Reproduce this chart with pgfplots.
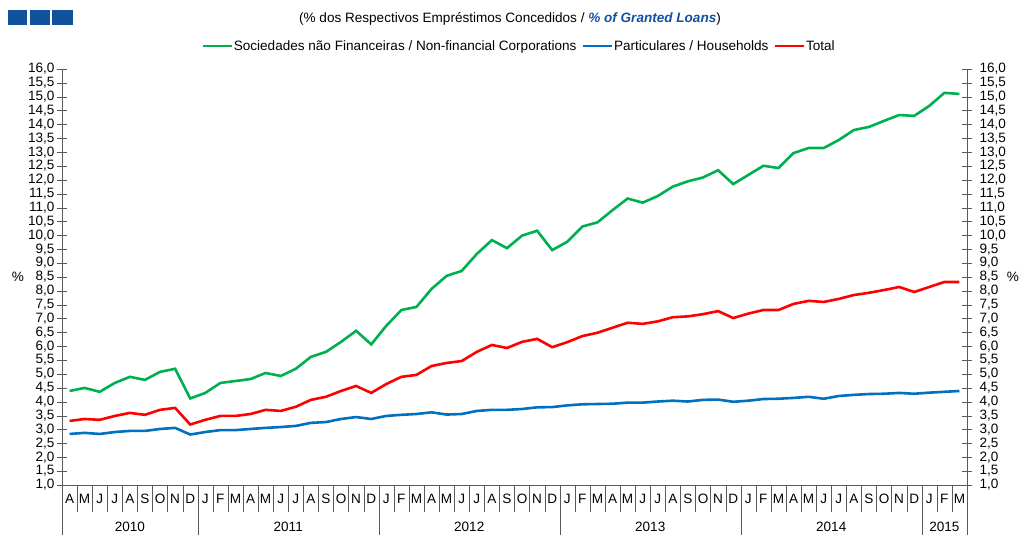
\documentclass[border=0pt]{standalone}
\usepackage{pgfplots}
\usepackage{pgfplotstable}
\pgfplotsset{compat=1.18}
\usepackage{fontspec}
\setmainfont{Liberation Sans}

\definecolor{nfcgreen}{RGB}{0,176,80}
\definecolor{hhblue}{RGB}{0,112,192}
\definecolor{totred}{RGB}{255,0,0}
\definecolor{bpblue}{RGB}{16,82,158}
\definecolor{axisgray}{RGB}{90,90,90}

% monthly, Apr 2010 .. Mar 2015 (i = 0..59)
\pgfplotstableread{
i  nfc   hh    tot
0  4.39  2.84  3.31
1  4.50  2.88  3.38
2  4.36  2.84  3.35
3  4.68  2.91  3.49
4  4.90  2.95  3.60
5  4.79  2.95  3.53
6  5.08  3.02  3.71
7  5.19  3.06  3.78
8  4.12  2.82  3.18
9  4.32  2.91  3.35
10 4.68  2.98  3.49
11 4.75  2.98  3.49
12 4.82  3.02  3.56
13 5.04  3.06  3.71
14 4.93  3.09  3.67
15 5.19  3.13  3.82
16 5.62  3.24  4.07
17 5.80  3.27  4.18
18 6.16  3.38  4.39
19 6.56  3.45  4.57
20 6.07  3.38  4.32
21 6.74  3.49  4.64
22 7.31  3.53  4.90
23 7.42  3.56  4.97
24 8.07  3.62  5.29
25 8.54  3.54  5.40
26 8.72  3.56  5.47
27 9.33  3.67  5.80
28 9.83  3.71  6.05
29 9.54  3.71  5.94
30 9.99  3.74  6.16
31 10.17 3.80  6.27
32 9.47  3.81  5.97
33 9.77  3.87  6.15
34 10.32 3.91  6.37
35 10.47 3.92  6.49
36 10.91 3.93  6.67
37 11.33 3.97  6.85
38 11.18 3.97  6.81
39 11.42 4.01  6.90
40 11.76 4.04  7.05
41 11.95 4.01  7.08
42 12.09 4.07  7.16
43 12.35 4.08  7.27
44 11.85 4.00  7.02
45 12.18 4.04  7.18
46 12.51 4.10  7.31
47 12.43 4.11  7.31
48 12.97 4.14  7.53
49 13.15 4.18  7.64
50 13.15 4.11  7.60
51 13.44 4.21  7.71
52 13.80 4.25  7.85
53 13.91 4.28  7.93
54 14.13 4.29  8.03
55 14.34 4.32  8.14
56 14.31 4.29  7.96
57 14.67 4.33  8.14
58 15.14 4.36  8.32
59 15.10 4.39  8.32
}\loandata

\begin{document}
\begin{tikzpicture}[font=\fontsize{13.6}{16}\selectfont]
\useasboundingbox (-62bp,-50bp) rectangle (957bp,485bp);
\pgfplotsset{
  chartbase/.style={
    width=905bp, height=416bp, scale only axis,
    xmin=-0.5, xmax=59.5, ymin=1, ymax=16,
    ytick distance=0.5,
    ytick align=center, major tick length=10bp,
    axis line style={axisgray}, tick style={axisgray},
    /pgf/number format/.cd, fixed, fixed zerofill, precision=1, use comma, assume math mode=true,
  },
}
\begin{axis}[chartbase,
  axis x line*=bottom, axis y line*=left, clip=false,
  xtick={0,...,59},
  xticklabels={A,M,J,J,A,S,O,N,D,
    J,F,M,A,M,J,J,A,S,O,N,D,
    J,F,M,A,M,J,J,A,S,O,N,D,
    J,F,M,A,M,J,J,A,S,O,N,D,
    J,F,M,A,M,J,J,A,S,O,N,D,
    J,F,M},
  major x tick style={draw=none},
  minor xtick={-0.5,0.5,...,59.5},
  xtick align=outside, minor tick length=27bp,
  minor x tick style={axisgray},
  xticklabel style={anchor=center, yshift=-4bp},
  yticklabel style={xshift=1bp},
  legend columns=3,
  legend style={at={(0.5,1)}, anchor=south, xshift=4bp, yshift=14bp, draw=none,
    fill=none, /tikz/every even column/.append style={column sep=4bp},
    nodes={inner sep=1bp}},
  legend image code/.code={\draw[#1] (0bp,0bp) -- (29bp,0bp);},
]
\addplot[nfcgreen, line width=2.6bp] table[x=i, y=nfc] {\loandata};
\addlegendentry{Sociedades não Financeiras / Non-financial Corporations}
\addplot[hhblue, line width=2.6bp] table[x=i, y=hh] {\loandata};
\addlegendentry{Particulares / Households}
\addplot[totred, line width=2.6bp] table[x=i, y=tot] {\loandata};
\addlegendentry{Total}
\pgfplotsinvokeforeach{-0.5,8.5,20.5,32.5,44.5,56.5,59.5}{
  \draw[axisgray] (axis cs:#1,1) -- ++(0bp,-50bp);
}
\node at (axis cs:4,1) [yshift=-42bp] {2010};
\node at (axis cs:14.5,1) [yshift=-42bp] {2011};
\node at (axis cs:26.5,1) [yshift=-42bp] {2012};
\node at (axis cs:38.5,1) [yshift=-42bp] {2013};
\node at (axis cs:50.5,1) [yshift=-42bp] {2014};
\node at (axis cs:58,1) [yshift=-42bp] {2015};
\end{axis}
\begin{axis}[chartbase,
  axis x line=none, axis y line*=right,
  yticklabel style={anchor=west, xshift=4bp},
]
\end{axis}
\node at (-44bp,208bp) {\%};
\node at (951bp,208bp) {\%};
\node at (448bp,466bp) {(\% dos Respectivos Empréstimos Concedidos / {\color{bpblue}\bfseries\itshape \% of Granted Loans})};
\fill[bpblue] (-54bp,460bp) rectangle (-34.5bp,474.5bp);
\fill[bpblue] (-32bp,460bp) rectangle (-12bp,474.5bp);
\fill[bpblue] (-9.7bp,460bp) rectangle (10.7bp,474.5bp);
\end{tikzpicture}
\end{document}
